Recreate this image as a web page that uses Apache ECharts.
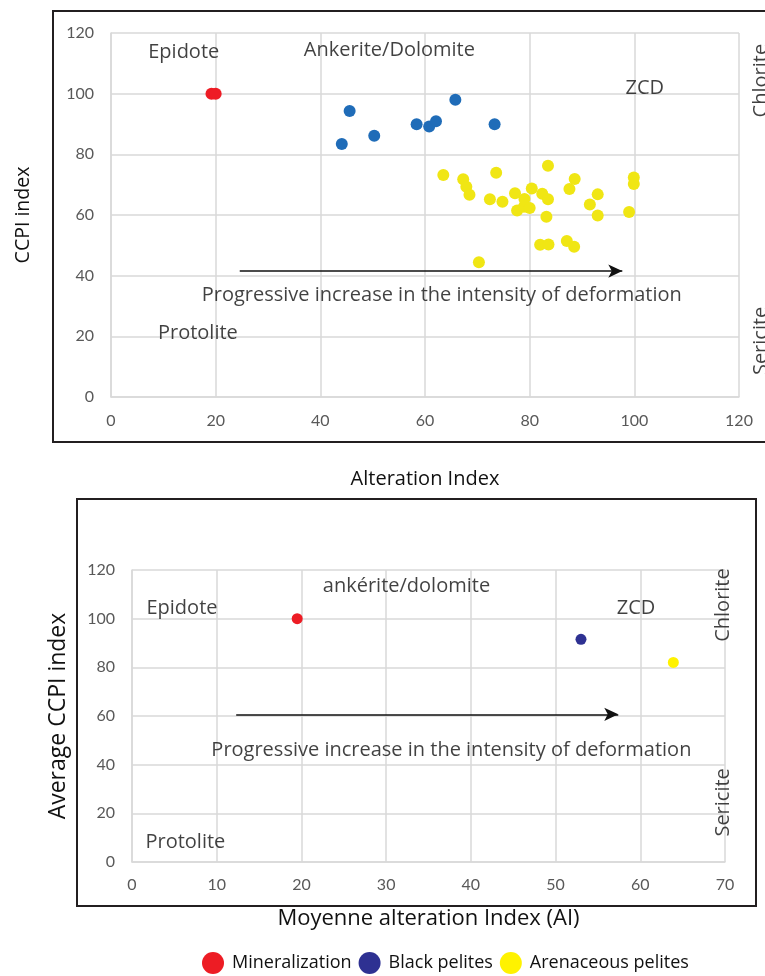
<!DOCTYPE html>
<html>
<head>
<meta charset="utf-8">
<script src="https://cdn.jsdelivr.net/npm/echarts@6/dist/echarts.min.js"></script>
<style>html,body{margin:0;padding:0;background:#fff}#c{width:765px;height:976px}</style>
</head>
<body>
<div id="c"></div>
<script>
// ---- Top chart data: Alteration Index vs CCPI index ----
const topMineralization = [[19.2, 100], [20.0, 100]];
const topBlackPelites = [[44.1, 83.4], [45.6, 94.3], [50.3, 86.1], [58.4, 89.9], [60.8, 89.2], [62.1, 90.9], [65.8, 98.0], [73.3, 89.9]];
const topArenaceous = [[63.5, 73.2], [67.3, 71.8], [67.9, 69.3], [68.5, 66.7], [70.3, 44.4], [72.4, 65.2], [73.6, 73.9], [74.8, 64.4], [77.2, 67.2], [77.6, 61.5], [78.9, 62.7], [79.0, 65.3], [80.0, 62.3], [80.4, 68.7], [82.0, 50.2], [82.4, 67.0], [83.2, 59.4], [83.5, 65.2], [83.5, 76.2], [83.6, 50.3], [87.1, 51.4], [87.6, 68.6], [88.5, 49.5], [88.6, 71.9], [91.5, 63.5], [93.0, 66.8], [93.0, 59.8], [99.0, 61.0], [99.9, 72.4], [99.9, 70.2]];
const topXTicks = [0, 20, 40, 60, 80, 100, 120];
const topYTicks = [0, 20, 40, 60, 80, 100, 120];
const topLabels = [[13.9, 113.7, 'Epidote'], [53.2, 114.4, 'Ankerite/Dolomite'], [102, 101.9, 'ZCD'], [63.2, 33.6, 'Progressive increase in the intensity of deformation'], [16.6, 21.1, 'Protolite']];
const topSideLabels = [[124.2, 104.3, 'Chlorite'], [124.2, 18.5, 'Sericite']];
const topArrow = [[24.6, 41.5], [97.7, 41.5]];

// ---- Bottom chart data: average values ----
const avgMineralization = [[19.5, 100]];
const avgBlackPelites = [[53.0, 91.5]];
const avgArenaceous = [[63.9, 82]];
const botXTicks = [0, 10, 20, 30, 40, 50, 60, 70];
const botYTicks = [0, 20, 40, 60, 80, 100, 120];
const botLabels = [[32.4, 113.1, 'ankérite/dolomite'], [5.9, 104.3, 'Epidote'], [59.5, 104.3, 'ZCD'], [37.7, 45.8, 'Progressive increase in the intensity of deformation'], [6.3, 8.0, 'Protolite']];
const botSideLabels = [[69.8, 105.6, 'Chlorite'], [69.8, 24.5, 'Sericite']];
const botArrow = [[12.3, 60.7], [57.4, 60.7]];

const legendNames = ['Mineralization', 'Black pelites', 'Arenaceous pelites'];

const FONT = '"Open Sans", Lato, sans-serif';
const TICKFONT = 'Lato, "Open Sans", sans-serif';
const INK = '#111111';
const GRID = '#d9d9d9';
const TICK = '#595959';

function axisCommon(ticks, gridIndex, nameText, nameGap, nameSize, labelMargin) {
  return {
    type: 'value', gridIndex: gridIndex,
    min: ticks[0], max: ticks[ticks.length - 1], interval: ticks[1] - ticks[0],
    name: nameText, nameLocation: 'middle', nameGap: nameGap,
    nameTextStyle: { fontFamily: FONT, fontSize: nameSize, color: INK },
    axisLine: { show: true, lineStyle: { color: GRID, width: 1.5 } },
    axisTick: { show: false },
    axisLabel: { fontFamily: TICKFONT, fontSize: 16, color: TICK, margin: labelMargin },
    splitLine: { show: true, lineStyle: { color: GRID, width: 1.5 } }
  };
}

function textSeries(data, xi, yi, rotate, size) {
  return {
    type: 'scatter', xAxisIndex: xi, yAxisIndex: yi, data: data,
    symbolSize: 0, silent: true, clip: false, z: 5,
    label: {
      show: true, position: 'inside', rotate: rotate,
      formatter: p => p.value[2],
      fontFamily: FONT, fontSize: size, color: INK
    }
  };
}

function arrowLine(pts) {
  return [[{ coord: pts[0] }, { coord: pts[1] }]];
}

const chart = echarts.init(document.getElementById('c'));
chart.setOption({
  animation: false,
  backgroundColor: '#ffffff',
  graphic: [
    { type: 'rect', shape: { x: 53, y: 11, width: 760, height: 431 }, style: { fill: 'none', stroke: '#231f20', lineWidth: 2 }, z: -1 },
    { type: 'rect', shape: { x: 77, y: 499, width: 679, height: 407 }, style: { fill: 'none', stroke: '#231f20', lineWidth: 2 }, z: -1 }
  ],
  legend: {
    data: legendNames.map(n => ({ name: n, icon: 'circle' })),
    left: 197, top: 947,
    itemWidth: 22, itemHeight: 22, itemGap: 7,
    textStyle: { fontFamily: FONT, fontSize: 18, color: INK, padding: [0, 0, 0, 3] }
  },
  grid: [
    { left: 111, right: 26, top: 33, height: 364 },
    { left: 132, right: 40, top: 570, height: 292 }
  ],
  xAxis: [
    axisCommon(topXTicks, 0, 'Alteration Index', 72, 20, 16),
    axisCommon(botXTicks, 1, 'Moyenne alteration Index (AI)', 46, 22, 15)
  ],
  yAxis: [
    axisCommon(topYTicks, 0, 'CCPI index', 78, 19.5, 17),
    axisCommon(botYTicks, 1, 'Average CCPI index', 62, 23, 17)
  ],
  series: [
    { name: 'Mineralization (samples)', type: 'scatter', xAxisIndex: 0, yAxisIndex: 0, data: topMineralization, symbolSize: 12, itemStyle: { color: '#ee1c25', opacity: 1 } },
    { name: 'Black pelites (samples)', type: 'scatter', xAxisIndex: 0, yAxisIndex: 0, data: topBlackPelites, symbolSize: 12, itemStyle: { color: '#1f6cb8', opacity: 1 } },
    { name: 'Arenaceous pelites (samples)', type: 'scatter', xAxisIndex: 0, yAxisIndex: 0, data: topArenaceous, symbolSize: 12, itemStyle: { color: '#f0e614', opacity: 1 } },
    { name: 'Mineralization', type: 'scatter', xAxisIndex: 1, yAxisIndex: 1, data: avgMineralization, symbolSize: 11, itemStyle: { color: '#ed1c24', opacity: 1 } },
    { name: 'Black pelites', type: 'scatter', xAxisIndex: 1, yAxisIndex: 1, data: avgBlackPelites, symbolSize: 11, itemStyle: { color: '#2e3192', opacity: 1 } },
    { name: 'Arenaceous pelites', type: 'scatter', xAxisIndex: 1, yAxisIndex: 1, data: avgArenaceous, symbolSize: 11, itemStyle: { color: '#fff200', opacity: 1 } },
    Object.assign(textSeries(topLabels, 0, 0, 0, 20), {
      markLine: { silent: true, symbol: ['none', 'arrow'], symbolSize: [10, 14], label: { show: false },
        lineStyle: { color: INK, width: 1.5, type: 'solid' }, data: arrowLine(topArrow) }
    }),
    textSeries(topSideLabels, 0, 0, 90, 20),
    Object.assign(textSeries(botLabels, 1, 1, 0, 20), {
      markLine: { silent: true, symbol: ['none', 'arrow'], symbolSize: [10, 14], label: { show: false },
        lineStyle: { color: INK, width: 1.5, type: 'solid' }, data: arrowLine(botArrow) }
    }),
    textSeries(botSideLabels, 1, 1, 90, 20)
  ]
});
</script>
</body>
</html>
